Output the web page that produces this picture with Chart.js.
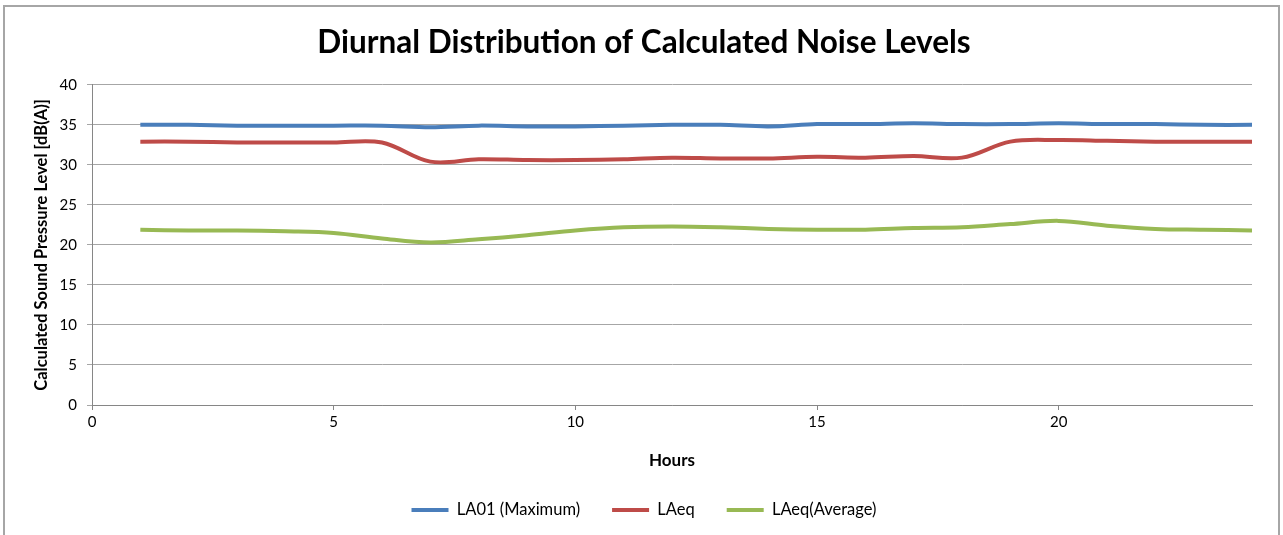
<!DOCTYPE html>
<html>
<head>
<meta charset="utf-8">
<script src="https://cdn.jsdelivr.net/npm/chart.js@4"></script>
<style>
  body { margin: 0; background: #fff; }
  #wrap { width: 1283px; height: 535px; position: relative; }
</style>
</head>
<body>
<div id="wrap"><canvas id="noiseChart"></canvas></div>
<script>
// hours of the day
const hours = [1, 2, 3, 4, 5, 6, 7, 8, 9, 10, 11, 12, 13, 14, 15, 16, 17, 18, 19, 20, 21, 22, 23, 24];

// LA01 (Maximum)
const la01 = [35.0, 35.0, 34.9, 34.9, 34.9, 34.9, 34.7, 34.9, 34.8, 34.8, 34.9, 35.0,
              35.0, 34.8, 35.1, 35.1, 35.2, 35.1, 35.1, 35.2, 35.1, 35.1, 35.0, 35.0];
// LAeq
const laeq = [32.9, 32.9, 32.8, 32.8, 32.8, 32.8, 30.4, 30.7, 30.6, 30.6, 30.7, 30.9,
              30.8, 30.8, 31.0, 30.9, 31.1, 30.9, 32.9, 33.1, 33.0, 32.9, 32.9, 32.9];
// LAeq(Average)
const laeqAvg = [21.9, 21.8, 21.8, 21.7, 21.5, 20.8, 20.3, 20.7, 21.2, 21.8, 22.2, 22.3,
                 22.2, 22.0, 21.9, 21.9, 22.1, 22.2, 22.6, 23.0, 22.4, 22.0, 21.9, 21.8];

const xTicks = [0, 5, 10, 15, 20];
const yTicks = [0, 5, 10, 15, 20, 25, 30, 35, 40];

const fontFamily = "Lato, 'Liberation Sans', sans-serif";

// grey frame round the chart, like the Excel chart area
const frame = {
  id: "frame",
  afterLayout(chart) {
    // centre title and legend on the whole frame, not just left of the right padding
    chart.titleBlock.left = 36;
    chart.legend.left = 36;
  },
  afterDraw(chart) {
    const ctx = chart.ctx;
    ctx.save();
    ctx.strokeStyle = "#a6a6a6";
    ctx.lineWidth = 2;
    ctx.beginPath();
    ctx.moveTo(4, 535);
    ctx.lineTo(4, 6);
    ctx.lineTo(1279, 6);
    ctx.lineTo(1279, 535);
    ctx.stroke();
    ctx.restore();
  }
};

const toPoints = (vals) => hours.map((h, i) => ({ x: h, y: vals[i] }));

const ds = (label, vals, color) => ({
  label: label,
  data: toPoints(vals),
  borderColor: color,
  backgroundColor: color,
  borderWidth: 4,
  pointRadius: 0,
  pointStyle: "line",
  tension: 0.35,
  fill: false
});

new Chart(document.getElementById("noiseChart"), {
  type: "line",
  data: {
    datasets: [
      ds("LA01 (Maximum)", la01, "#4a7ebb"),
      ds("LAeq", laeq, "#be4b48"),
      ds("LAeq(Average)", laeqAvg, "#98b954")
    ]
  },
  options: {
    responsive: true,
    maintainAspectRatio: false,
    animation: false,
    layout: { padding: { top: 0, right: 31, bottom: 6.75, left: 0 } },
    plugins: {
      title: {
        display: true,
        text: "Diurnal Distribution of Calculated Noise Levels",
        color: "#000",
        font: { family: fontFamily, size: 31.5, weight: "bold", lineHeight: 1.2 },
        padding: { top: 24, bottom: 23 }
      },
      legend: {
        position: "bottom",
        labels: {
          color: "#000",
          font: { family: fontFamily, size: 16.5 },
          usePointStyle: true,
          pointStyleWidth: 37,
          padding: 32
        }
      },
      tooltip: { enabled: false }
    },
    scales: {
      x: {
        type: "linear",
        min: 0,
        max: 24,
        afterBuildTicks: (axis) => { axis.ticks = xTicks.map(v => ({ value: v })); },
        afterFit: (axis) => { axis.height = 64.75; },
        grid: { drawOnChartArea: false, tickLength: 5, color: "#868686" },
        border: { display: true, color: "#868686" },
        ticks: { color: "#000", font: { family: fontFamily, size: 15 }, padding: 3, maxRotation: 0 },
        title: {
          display: true,
          text: "Hours",
          color: "#000",
          font: { family: fontFamily, size: 17, weight: "bold", lineHeight: 1 },
          padding: { top: 0, bottom: 1 }
        }
      },
      y: {
        min: 0,
        max: 40,
        afterBuildTicks: (axis) => { axis.ticks = yTicks.map(v => ({ value: v })); },
        afterFit: (axis) => { axis.width = 92; },
        grid: { color: "#a6a6a6", tickLength: 5, lineWidth: 1 },
        border: { display: true, color: "#868686" },
        ticks: { color: "#000", font: { family: fontFamily, size: 15 }, padding: 10 },
        title: {
          display: true,
          text: "Calculated Sound Pressure Level [dB(A)]",
          color: "#000",
          font: { family: fontFamily, size: 16.5, weight: "bold", lineHeight: 1.2 },
          padding: { top: 32, bottom: 0 }
        }
      }
    }
  },
  plugins: [frame]
});
</script>
</body>
</html>
